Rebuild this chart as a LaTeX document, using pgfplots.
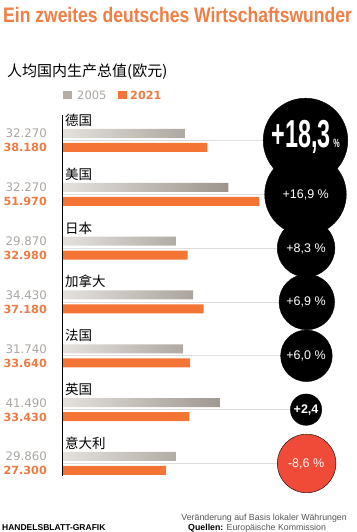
\documentclass[border=0pt]{standalone}
\usepackage{pgfplots}
\pgfplotsset{compat=1.18}
\usepackage{pgfplotstable}
\usepackage{graphicx}
\usepackage{fontspec}
\setmainfont{Liberation Sans}
\newfontfamily\cjk{Noto Sans CJK SC}
\newfontfamily\dv{DejaVu Sans}
\definecolor{orangeBar}{HTML}{F37435}
\definecolor{orangeTxt}{HTML}{EF7A42}
\definecolor{titleOr}{HTML}{F07E45}
\definecolor{greyL}{HTML}{E4E1DD}
\definecolor{greyR}{HTML}{9C948C}
\definecolor{greyTxt}{HTML}{ABA6A1}
\definecolor{greySq}{HTML}{B3ADA6}
\definecolor{redC}{HTML}{F04B38}
\definecolor{lineG}{HTML}{DEDEDE}
\definecolor{footG}{HTML}{555555}

% y: category position (Germany top = 6), cx: circle centre, r: circle radius (pt)
\pgfplotstableread{
y  a2005 a2021
6  32270 38180
5  43730 51970
4  29870 32980
3  34430 37180
2  31740 33640
1  41490 33430
0  29860 27300
}\gdp
\pgfplotstableread{
y  cx    r
6  64150 42.3
5  64150 40.8
4  64300 28.8
3  64500 27.8
2  64400 25.8
1  64300 15.7
}\pos
\pgfplotstableread{
y  cx    r
0  64450 29.3
}\neg

\begin{document}
\begin{tikzpicture}
\begin{axis}[
  width=356pt, height=532pt, scale only axis,
  xmin=-16667, xmax=77513, ymin=-1.273, ymax=8.610,
  axis lines=none, clip=false, set layers=standard,
]
\path (rel axis cs:0,0) rectangle (rel axis cs:1,1);

% thin guide lines
\addplot[lineG, line width=0.8pt] coordinates {(0,6) (64150,6)};
\addplot[lineG, line width=0.8pt] coordinates {(0,5) (64150,5)};
\addplot[lineG, line width=0.8pt] coordinates {(0,4) (64300,4)};
\addplot[lineG, line width=0.8pt] coordinates {(0,3) (64500,3)};
\addplot[lineG, line width=0.8pt] coordinates {(0,2) (64400,2)};
\addplot[lineG, line width=0.8pt] coordinates {(0,1) (64300,1)};
\addplot[lineG, line width=0.8pt] coordinates {(0,0) (64450,0)};

% bars
\addplot[xbar, bar width=9pt, bar shift=7pt, draw=none, left color=greyL, right color=greyR]
  table[x=a2005, y=y]{\gdp};
\addplot[xbar, bar width=9pt, bar shift=-7pt, draw=none, fill=orangeBar]
  table[x=a2021, y=y]{\gdp};

% axis line
\addplot[black, line width=1pt] coordinates {(-265,6.474) (-265,-0.232)};

% circles
\addplot[scatter, only marks, mark=*, point meta=\thisrow{r},
  scatter/use mapped color={draw=none, fill=black},
  visualization depends on={\thisrow{r}\as\rad},
  scatter/@pre marker code/.append style={/tikz/mark size=\rad pt}]
  table[x=cx, y=y]{\pos};
\addplot[scatter, only marks, mark=*, point meta=\thisrow{r},
  scatter/use mapped color={draw=none, fill=redC},
  visualization depends on={\thisrow{r}\as\rad},
  scatter/@pre marker code/.append style={/tikz/mark size=\rad pt}]
  table[x=cx, y=y]{\neg};

\begin{pgfonlayer}{axis foreground}
% circle labels
\node[anchor=base, inner sep=0, text=white, yshift=-7.5pt] at (axis cs:64200,6)
  {\scalebox{0.6}[1]{\fontsize{39}{39}\selectfont\bfseries +18,3\hspace{4pt}\fontsize{12}{12}\selectfont\%}};
\node[anchor=base, inner sep=0, text=white, yshift=-4pt, font=\fontsize{12.5}{12.5}\selectfont] at (axis cs:64200,5) {+16,9 \%};
\node[anchor=base, inner sep=0, text=white, yshift=-4.5pt, font=\fontsize{12.5}{12.5}\selectfont] at (axis cs:64300,4) {+8,3 \%};
\node[anchor=base, inner sep=0, text=white, yshift=-4pt, font=\fontsize{12.5}{12.5}\selectfont] at (axis cs:64300,3) {+6,9 \%};
\node[anchor=base, inner sep=0, text=white, yshift=-4pt, font=\fontsize{12.5}{12.5}\selectfont] at (axis cs:64300,2) {+6,0 \%};
\node[anchor=base, inner sep=0, text=white, yshift=-4.3pt, font=\fontsize{12.5}{12.5}\selectfont\bfseries] at (axis cs:64300,1) {+2,4};
\node[anchor=base, inner sep=0, text=white, yshift=-4.5pt, font=\fontsize{12.5}{12.5}\selectfont] at (axis cs:64300,0) {-8,6 \%};
\end{pgfonlayer}

% country labels
\node[anchor=base west, inner sep=0, yshift=15pt, font=\fontsize{13.5}{13.5}\cjk] at (axis cs:530,6) {德国};
\node[anchor=base west, inner sep=0, yshift=15pt, font=\fontsize{13.5}{13.5}\cjk] at (axis cs:530,5) {美国};
\node[anchor=base west, inner sep=0, yshift=15pt, font=\fontsize{13.5}{13.5}\cjk] at (axis cs:530,4) {日本};
\node[anchor=base west, inner sep=0, yshift=15pt, font=\fontsize{13.5}{13.5}\cjk] at (axis cs:530,3) {加拿大};
\node[anchor=base west, inner sep=0, yshift=15pt, font=\fontsize{13.5}{13.5}\cjk] at (axis cs:530,2) {法国};
\node[anchor=base west, inner sep=0, yshift=15pt, font=\fontsize{13.5}{13.5}\cjk] at (axis cs:530,1) {英国};
\node[anchor=base west, inner sep=0, yshift=15pt, font=\fontsize{13.5}{13.5}\cjk] at (axis cs:530,0) {意大利};

% value labels
\tikzset{gv/.style={anchor=base east, inner sep=0, yshift=2.5pt, text=greyTxt, font=\fontsize{11.8}{11.8}\dv},
         ov/.style={anchor=base east, inner sep=0, yshift=-11.5pt, text=orangeTxt, font=\fontsize{11.2}{11.2}\dv\bfseries}}
\node[gv] at (axis cs:-4233,6) {32.270}; \node[ov] at (axis cs:-4233,6) {38.180};
\node[gv] at (axis cs:-4233,5) {32.270}; \node[ov] at (axis cs:-4233,5) {51.970};
\node[gv] at (axis cs:-4233,4) {29.870}; \node[ov] at (axis cs:-4233,4) {32.980};
\node[gv] at (axis cs:-4233,3) {34.430}; \node[ov] at (axis cs:-4233,3) {37.180};
\node[gv] at (axis cs:-4233,2) {31.740}; \node[ov] at (axis cs:-4233,2) {33.640};
\node[gv] at (axis cs:-4233,1) {41.490}; \node[ov] at (axis cs:-4233,1) {33.430};
\node[gv] at (axis cs:-4233,0) {29.860}; \node[ov] at (axis cs:-4233,0) {27.300};

% title, subtitle, legend
\node[anchor=base west, inner sep=0, text=titleOr] at (rel axis cs:0.00843,0.95677)
  {\scalebox{0.835}[1]{\fontsize{21}{21}\selectfont\bfseries Ein zweites deutsches Wirtschaftswunder}};
\node[anchor=base west, inner sep=0, font=\fontsize{15}{15}\cjk] at (rel axis cs:0.01966,0.85526) {人均国内生产总值(欧元)};
\node[fill=greySq, minimum width=9pt, minimum height=8pt, inner sep=0] at (rel axis cs:0.18961,0.82143) {};
\node[anchor=base west, inner sep=0, text=greyTxt, font=\fontsize{11.5}{11.5}\dv] at (rel axis cs:0.21629,0.81203) {2005};
\node[fill=orangeBar, minimum width=9pt, minimum height=8pt, inner sep=0] at (rel axis cs:0.34410,0.82143) {};
\node[anchor=base west, inner sep=0, text=orangeTxt, font=\fontsize{11.2}{11.2}\dv\bfseries] at (rel axis cs:0.36517,0.81203) {2021};

% footer
\node[anchor=base west, inner sep=0, font=\fontsize{8.5}{8.5}\selectfont\bfseries] at (rel axis cs:0.00562,0.00376) {HANDELSBLATT-GRAFIK};
\node[anchor=base east, inner sep=0, text=footG, font=\fontsize{8.8}{8.8}\selectfont] at (rel axis cs:0.97472,0.02068) {Veränderung auf Basis lokaler Währungen};
\node[anchor=base west, inner sep=0, text=footG, font=\fontsize{8.8}{8.8}\selectfont] at (rel axis cs:0.52809,0.00376) {\textbf{\color{black}Quellen:} Europäische Kommission};
\end{axis}
\end{tikzpicture}
\end{document}
